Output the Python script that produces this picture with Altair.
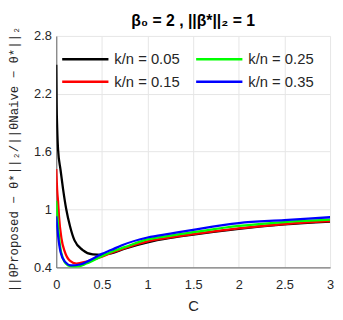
import altair as alt
import pandas as pd

series_names = ["k/n = 0.05", "k/n = 0.15", "k/n = 0.25", "k/n = 0.35"]
series_colors = ["#000000", "#ff0000", "#00ff00", "#0000ff"]

c_005 = [0, 0.004, 0.01, 0.02, 0.047, 0.075, 0.11, 0.15, 0.2, 0.29, 0.4, 0.5, 0.6, 0.75, 1.0, 1.25, 1.5, 2.0, 2.5, 3.0]
y_005 = [2.5, 2.1, 1.85, 1.62, 1.41, 1.21, 1.0, 0.83, 0.68, 0.58, 0.535, 0.53, 0.545, 0.595, 0.66, 0.705, 0.74, 0.80, 0.845, 0.875]

c_015 = [0, 0.01, 0.02, 0.03, 0.057, 0.094, 0.148, 0.22, 0.33, 0.5, 0.6, 0.75, 1.0, 1.25, 1.5, 2.0, 2.5, 3.0]
y_015 = [1.42, 1.2, 1.08, 0.93, 0.70, 0.56, 0.47, 0.44, 0.46, 0.51, 0.55, 0.60, 0.67, 0.71, 0.745, 0.805, 0.85, 0.88]

c_025 = [0, 0.01, 0.02, 0.04, 0.075, 0.13, 0.2, 0.25, 0.33, 0.4, 0.5, 0.6, 0.75, 1.0, 1.25, 1.5, 2.0, 2.5, 3.0]
y_025 = [1.09, 0.95, 0.83, 0.63, 0.49, 0.42, 0.405, 0.41, 0.44, 0.47, 0.515, 0.56, 0.61, 0.69, 0.73, 0.765, 0.83, 0.87, 0.895]

c_035 = [0, 0.01, 0.02, 0.047, 0.094, 0.165, 0.26, 0.36, 0.5, 0.6, 0.72, 1.0, 1.25, 1.5, 2.0, 2.5, 3.0]
y_035 = [0.93, 0.82, 0.73, 0.56, 0.46, 0.42, 0.43, 0.47, 0.54, 0.58, 0.63, 0.71, 0.75, 0.79, 0.86, 0.89, 0.92]

x_ticks = [0, 0.5, 1, 1.5, 2, 2.5, 3]
y_ticks = [0.4, 1, 1.6, 2.2, 2.8]

rows = []
for name, cs, ys in zip(series_names, [c_005, c_015, c_025, c_035], [y_005, y_015, y_025, y_035]):
    for c, v in zip(cs, ys):
        rows.append({"C": c, "ratio": v, "series": name})
df = pd.DataFrame(rows)

x_enc = alt.X("C:Q",
              scale=alt.Scale(domain=[0, 3], nice=False, zero=False),
              axis=alt.Axis(values=x_ticks, format="~g", title="C", ticks=False,
                            labelFlush=False,
                            labelPadding=11, titlePadding=8, titleFontSize=15,
                            titleFontWeight="normal"))
y_enc = alt.Y("ratio:Q",
              scale=alt.Scale(domain=[0.4, 2.8], nice=False, zero=False),
              axis=alt.Axis(values=y_ticks, format="~g",
                            title="||θProposed − θ*||₂/||θNaive − θ*||₂",
                            ticks=False, labelPadding=5, labelFlush=False,
                            titleFont="Liberation Mono", titleFontSize=12.5,
                            titleFontWeight="normal",
                            titleAngle=270, titleAlign="center", titleBaseline="middle",
                            titleX=-43, titleY=125))
color_enc = alt.Color("series:N",
                      scale=alt.Scale(domain=series_names, range=series_colors),
                      legend=alt.Legend(title=None, orient="none", legendX=20, legendY=14,
                                        columns=2,
                                        symbolType="M-3,0H3", symbolSize=245, symbolStrokeWidth=2.6,
                                        labelFontSize=15, labelFont="Liberation Sans", labelColor="#262626",
                                        labelOffset=20, columnPadding=10, rowPadding=5, padding=0))

layers = []
for name in series_names:
    layers.append(
        alt.Chart(df).transform_filter(alt.datum.series == name)
        .mark_line(strokeWidth=2.3, interpolate="monotone", clip=True)
        .encode(x=x_enc, y=y_enc, color=color_enc)
    )

chart = alt.layer(*layers).properties(
    width=278, height=235,
    title=alt.Title("β₀ = 2 ,  ||β*||₂ = 1", fontSize=16, fontWeight="bold",
                    font="Liberation Sans", color="#000000", anchor="middle",
                    frame="group", offset=8, dy=11),
    autosize=alt.AutoSizeParams(type="none"),
    padding={"left": 49, "top": 26, "right": 5, "bottom": 48},
).configure_view(stroke=None).configure_axis(
    labelFont="Liberation Sans", labelFontSize=13, labelColor="#262626",
    titleFont="Liberation Sans", titleColor="#262626",
    domainColor="#7a7a7a", domainWidth=1.2,
    gridColor="#e6e6e6", gridWidth=1,
)

chart.save("out.html", embed_options={"renderer": "svg", "actions": False})
